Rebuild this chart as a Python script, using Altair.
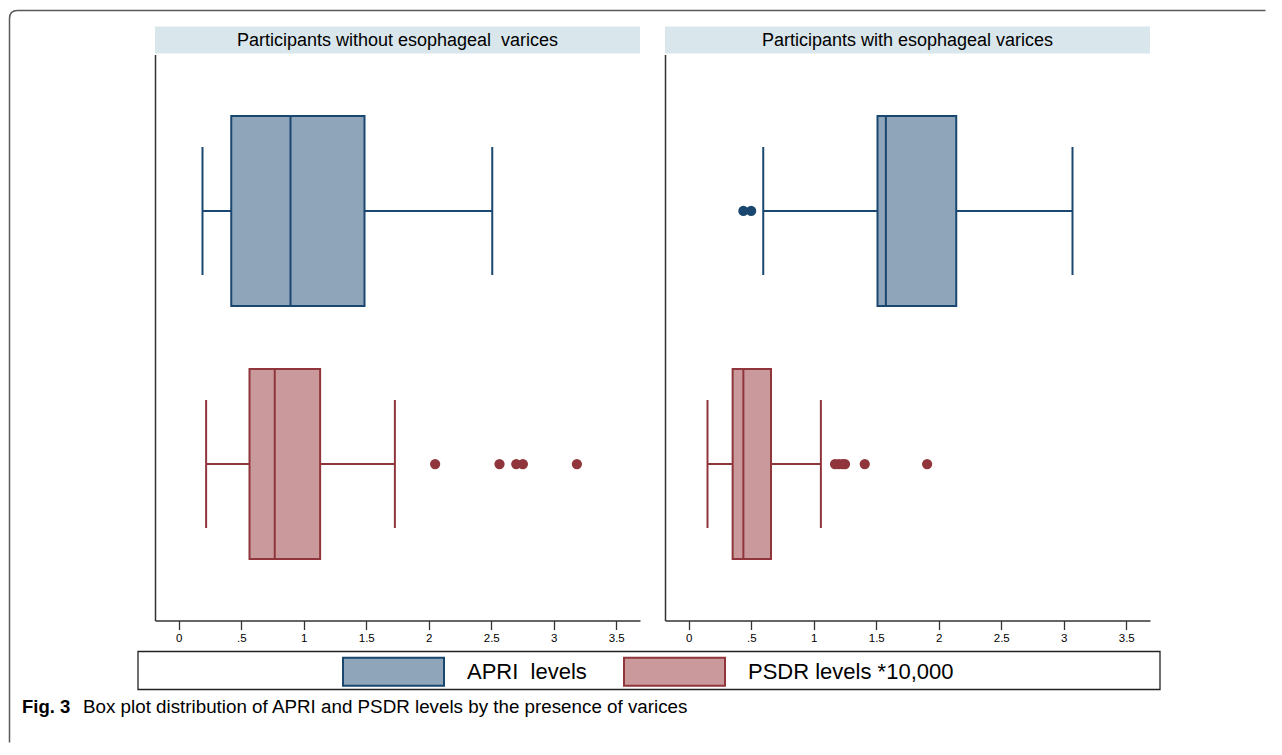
import altair as alt
import pandas as pd

# ---------------- data ----------------
groups = ["Participants without esophageal\u00a0 varices", "Participants with esophageal varices"]
series = ["APRI\u00a0 levels", "PSDR levels *10,000"]
# lower whisker, Q1, median, Q3, upper whisker
without_apri = [0.19, 0.42, 0.894, 1.486, 2.508]
without_psdr = [0.219, 0.566, 0.768, 1.131, 1.729]
with_apri = [0.596, 1.51, 1.577, 2.14, 3.07]
with_psdr = [0.15, 0.351, 0.437, 0.658, 1.057]
# outside values
without_apri_out = []
without_psdr_out = [2.051, 2.566, 2.70, 2.753, 3.185]
with_apri_out = [0.437, 0.499]
with_psdr_out = [1.17, 1.20, 1.23, 1.25, 1.408, 1.907]
x_ticks = [0, 0.5, 1, 1.5, 2, 2.5, 3, 3.5]
caption_bold = ["Fig. 3"]
caption_text = ["Box plot distribution of APRI and PSDR levels by the presence of varices"]

fill_colors = ["#8ea5ba", "#c9999c"]
dark_colors = ["#1a476f", "#90353b"]

W, H = 485, 566
FONT = "Liberation Sans"
NOVIEW = alt.ViewBackground(stroke="transparent", strokeWidth=0)

xaxis = alt.Axis(values=x_ticks, labelExpr="replace(toString(datum.value), '0.', '.')", title=None,
                 grid=False, tickSize=9, tickWidth=1.3, tickColor="#333", domainColor="#333",
                 domainWidth=1.5, labelFontSize=11.5, labelColor="black", labelPadding=3,
                 labelFont=FONT)
xscale = alt.Scale(domain=[-0.19, 3.69], nice=False, zero=False)
yaxis = alt.Axis(labels=False, ticks=False, title=None, grid=False, domainColor="#333", domainWidth=1.5)
yscale = alt.Scale(domain=series, paddingInner=0.249, paddingOuter=0.243)


def X(field):
    return alt.X(field, type="quantitative", scale=xscale, axis=xaxis)


def Y():
    return alt.Y("series:N", scale=yscale, axis=yaxis)


dark = alt.Color("series:N", scale=alt.Scale(domain=series, range=dark_colors), legend=None)


def panel(gi, apri, psdr, apri_out, psdr_out, extras, show_legend):
    st = pd.DataFrame({
        "series": series,
        "lo": [apri[0], psdr[0]], "q1": [apri[1], psdr[1]], "med": [apri[2], psdr[2]],
        "q3": [apri[3], psdr[3]], "hi": [apri[4], psdr[4]],
    })
    out = pd.DataFrame({
        "series": [series[0]] * len(apri_out) + [series[1]] * len(psdr_out),
        "value": list(apri_out) + list(psdr_out),
    })
    base = alt.Chart(st)
    hdr = alt.Chart(pd.DataFrame({"title": [groups[gi]]}))
    strip = hdr.mark_rect(fill="#d9e6ec").encode(
        x=alt.value(0), x2=alt.value(W), y=alt.value(-28), y2=alt.value(-1))
    strip_text = hdr.mark_text(align="center", baseline="middle", fontSize=18, font=FONT,
                               color="black").encode(x=alt.value(W / 2), y=alt.value(-14),
                                                     text="title:N")
    whisk = base.mark_rule(strokeWidth=2).encode(x=X("lo"), x2="hi", y=Y(), color=dark)
    cap_lo = base.mark_tick(thickness=2, size=128, opacity=1).encode(x=X("lo"), y=Y(), color=dark)
    cap_hi = base.mark_tick(thickness=2, size=128, opacity=1).encode(x=X("hi"), y=Y(), color=dark)
    if show_legend:
        leg = alt.Legend(title=None, orient="none", legendX=187, legendY=565.5)
    else:
        leg = None
    box = base.mark_rect(strokeWidth=2).encode(
        x=X("q1"), x2="q3", y=Y(),
        fill=alt.Fill("series:N", scale=alt.Scale(domain=series, range=fill_colors), legend=leg),
        stroke=alt.Stroke("series:N", scale=alt.Scale(domain=series, range=dark_colors), legend=leg),
    )
    med = base.mark_tick(thickness=2, size=190, opacity=1).encode(x=X("med"), y=Y(), color=dark)
    layers = [strip, strip_text, whisk, cap_lo, cap_hi, box, med]
    if len(out):
        pts = alt.Chart(out).mark_circle(size=105, opacity=1).encode(x=X("value"), y=Y(), color=dark)
        layers.append(pts)
    layers += extras
    return alt.layer(*layers).properties(width=W, height=H, view=NOVIEW)


one = alt.Chart(pd.DataFrame({"k": [0]}))
frame = one.mark_point(shape="M0,732V8Q0,0,8,0H1256", size=4, filled=False, opacity=1,
                       stroke="#5a5a5a", strokeWidth=1.5, strokeJoin="round").encode(
    x=alt.value(-145.5), y=alt.value(-44))
legend_box = one.mark_rect(fill="transparent", stroke="#222", strokeWidth=1.3).encode(
    x=alt.value(-17), x2=alt.value(1005), y=alt.value(597), y2=alt.value(635))
cap1 = alt.Chart(pd.DataFrame({"t": caption_bold})).mark_text(
    align="left", baseline="middle", fontSize=18.5, fontWeight="bold", font=FONT, color="black"
).encode(x=alt.value(-133), y=alt.value(652), text="t:N")
cap2 = alt.Chart(pd.DataFrame({"t": caption_text})).mark_text(
    align="left", baseline="middle", fontSize=18.8, font=FONT, color="black"
).encode(x=alt.value(-72), y=alt.value(652), text="t:N")

left = panel(0, without_apri, without_psdr, without_apri_out, without_psdr_out,
             [frame, legend_box, cap1, cap2], True)
right = panel(1, with_apri, with_psdr, with_apri_out, with_psdr_out, [], False)

chart = alt.hconcat(left, right, spacing=25, bounds="flush").resolve_scale(
    fill="independent", stroke="independent"
).properties(
    padding={"left": 0, "top": 1.5, "right": 0, "bottom": 0}
).configure_view(stroke="transparent", strokeWidth=0).configure(font=FONT).configure_legend(
    symbolType="M-1,-0.277H1V0.277H-1Z",
    symbolSize=10201, symbolStrokeWidth=2, symbolOpacity=1, labelFont=FONT,
    labelFontSize=22, labelOffset=22, columnPadding=33, padding=0, labelLimit=400,
    labelColor="black", direction="horizontal"
)

chart.save("out.html", embed_options={"renderer": "svg", "actions": False})
